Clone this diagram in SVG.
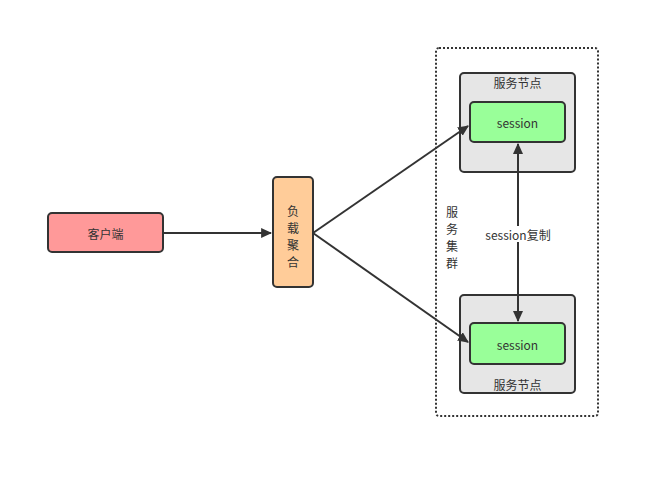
<svg xmlns="http://www.w3.org/2000/svg" width="661" height="479" viewBox="0 0 661 479">
<defs>
<style>
.box{stroke:#333;stroke-width:2}
.t{font-family:"Noto Sans CJK SC","Liberation Sans",sans-serif;font-size:12px;fill:#333;text-anchor:middle;dominant-baseline:central}
.c{stroke:#333;stroke-width:2;fill:none}
</style>
<marker id="ah" viewBox="0 0 10 10" refX="9" refY="5" markerWidth="11" markerHeight="10" orient="auto-start-reverse" markerUnits="userSpaceOnUse" preserveAspectRatio="none">
<path d="M0,0 L10,5 L0,10 Z" fill="#333"/>
</marker>
</defs>
<rect width="661" height="479" fill="#fff"/>
<g id="cluster">
<rect x="436" y="48" width="162" height="368" rx="3" fill="none" stroke="#333" stroke-width="2" stroke-dasharray="2,2"/>
<text class="t"><tspan x="452" y="211">服</tspan><tspan x="452" y="228">务</tspan><tspan x="452" y="245">集</tspan><tspan x="452" y="262">群</tspan></text>
</g>
<g id="client">
<rect class="box" x="48" y="213" width="115" height="39" rx="4" fill="#ff9999"/>
<text class="t" x="105.5" y="233">客户端</text>
</g>
<g id="lb">
<rect class="box" x="273" y="177" width="40" height="110" rx="4" fill="#ffcc99"/>
<text class="t"><tspan x="293" y="210">负</tspan><tspan x="293" y="227">载</tspan><tspan x="293" y="244">聚</tspan><tspan x="293" y="261">合</tspan></text>
</g>
<g id="node1">
<rect class="box" x="460" y="73" width="115" height="99" rx="4" fill="#e6e6e6"/>
<text class="t" x="517.5" y="82">服务节点</text>
</g>
<g id="session1">
<rect class="box" x="470" y="102" width="95" height="40" rx="4" fill="#99ff99"/>
<text class="t" x="517.5" y="122">session</text>
</g>
<g id="node2">
<rect class="box" x="460" y="295" width="115" height="98" rx="4" fill="#e6e6e6"/>
<text class="t" x="517.5" y="384">服务节点</text>
</g>
<g id="session2">
<rect class="box" x="470" y="323" width="95" height="41" rx="4" fill="#99ff99"/>
<text class="t" x="517.5" y="344">session</text>
</g>
<g id="connectors">
<line class="c" x1="163" y1="233" x2="271" y2="233" marker-end="url(#ah)"/>
<line class="c" x1="313" y1="233" x2="468" y2="126" marker-end="url(#ah)"/>
<line class="c" x1="313" y1="233" x2="468" y2="342" marker-end="url(#ah)"/>
<line class="c" x1="518" y1="144" x2="518" y2="321" marker-start="url(#ah)" marker-end="url(#ah)"/>
<rect x="480" y="226" width="76" height="16" fill="#fff"/>
<text class="t" x="518" y="234">session复制</text>
</g>
</svg>
